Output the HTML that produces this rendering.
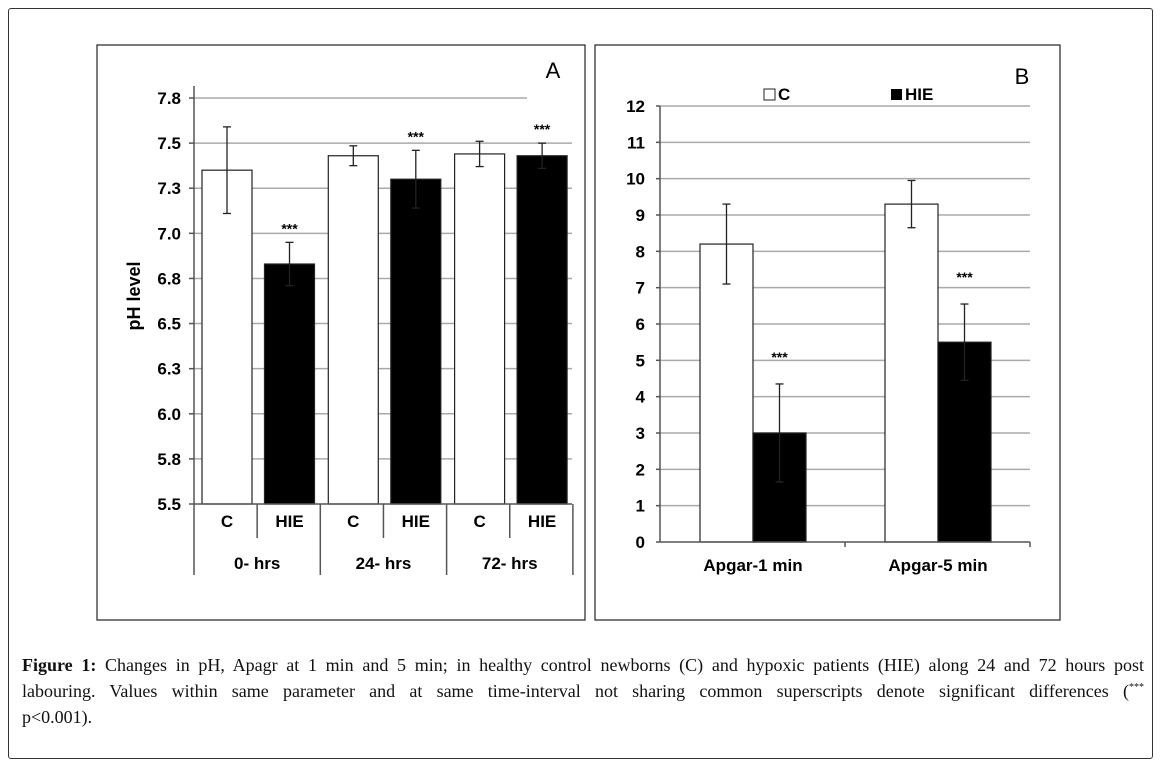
<!DOCTYPE html>
<html><head><meta charset="utf-8"><style>
body{margin:0;background:#fff;width:1163px;height:766px;overflow:hidden;position:relative}
#outer{position:absolute;left:8px;top:8px;width:1143px;height:749px;border:1px solid #333;border-radius:3px}
svg{position:absolute;left:0;top:0}
text{font-family:"Liberation Sans",sans-serif;font-weight:bold}
#cap{position:absolute;left:22px;top:652px;width:1122px;font-family:"Liberation Serif",serif;font-size:18px;line-height:26px;color:#111}
#cap div{text-align:justify;text-align-last:justify;white-space:nowrap}
#cap div.last{text-align-last:left}
</style></head><body>
<div id="outer"></div>
<svg id="svg" width="1163" height="766">
<rect x="97" y="45" width="488" height="575" fill="none" stroke="#222" stroke-width="1.2"/>
<rect x="595" y="45" width="465" height="575" fill="none" stroke="#222" stroke-width="1.2"/>
</svg>
<div id="cap">
<div style="white-space:normal"><b>Figure 1:</b> Changes in pH, Apagr at 1 min and 5 min; in healthy control newborns (C) and hypoxic patients (HIE) along 24 and 72 hours post</div>
<div style="white-space:normal">labouring. Values within same parameter and at same time-interval not sharing common superscripts denote significant differences (<sup style="font-size:10px;line-height:0">***</sup></div>
<div class="last">p&lt;0.001).</div>
</div>
<script>
// Panel A data
const aGroups=["0- hrs","24- hrs","72- hrs"];
const aSeries=["C","HIE"];
const aC=[7.35,7.43,7.44];
const aHIE=[6.83,7.30,7.43];
const aCerr=[0.24,0.055,0.07];
const aHIEerr=[0.12,0.16,0.07];
const aTicks=[7.75,7.5,7.25,7.0,6.75,6.5,6.25,6.0,5.75,5.5];
const aTickLabels=["7.8","7.5","7.3","7.0","6.8","6.5","6.3","6.0","5.8","5.5"];
// Panel B data
const bCats=["Apgar-1 min","Apgar-5 min"];
const bC=[8.2,9.3];
const bHIE=[3.0,5.5];
const bCerr=[1.1,0.65];
const bHIEerr=[1.35,1.05];
const bTicks=[0,1,2,3,4,5,6,7,8,9,10,11,12];

const svg=document.getElementById('svg');
const NS='http://www.w3.org/2000/svg';
function el(t,a,p){const e=document.createElementNS(NS,t);for(const k in a)e.setAttribute(k,a[k]);(p||svg).appendChild(e);return e;}
function txt(x,y,s,size,anchor){const e=el('text',{x:x,y:y,'font-size':size,'text-anchor':anchor||'middle'});e.textContent=s;return e;}

// ---- Panel A ----
const ay=v=>504-(v-5.5)/(7.75-5.5)*406;
const ax0=194, gw=126.3;
aTicks.forEach((v,i)=>{
  const y=ay(v);
  if(i<aTicks.length-1){
    const g=el('line',{x1:ax0,x2:i==0?527:572,y1:y,y2:y,stroke:'#aaa','stroke-width':1.5});
    
    
  }
  el('line',{x1:ax0-5,x2:ax0,y1:y,y2:y,stroke:'#555','stroke-width':1.5});
  const t=txt(ax0-13,y+6,aTickLabels[i],17,'end');
  
  
});
function errbar(x,top,bot,cap){el('line',{x1:x,x2:x,y1:top,y2:bot,stroke:'#222','stroke-width':1.3});el('line',{x1:x-cap,x2:x+cap,y1:top,y2:top,stroke:'#222','stroke-width':1.3});el('line',{x1:x-cap,x2:x+cap,y1:bot,y2:bot,stroke:'#222','stroke-width':1.3});}
aGroups.forEach((g,i)=>{
  const gx=ax0+i*gw;
  [[aC,aCerr,'#fff'],[aHIE,aHIEerr,'#000']].forEach((s,j)=>{
    const x=gx+8+j*62.5, v=s[0][i], e=s[1][i];
    const r=el('rect',{x:x,y:ay(v),width:50,height:504-ay(v),fill:s[2],stroke:'#222','stroke-width':1.2});
    
    
    errbar(x+25,ay(v+e),ay(v-e),4);
    const l=txt(x+25,527,aSeries[j],17);
    
    
    if(j==1){const st=txt(x+25,ay(v+e)-9,'***',14);
      
      }
  });
  el('line',{x1:gx+gw/2,x2:gx+gw/2,y1:504,y2:538,stroke:'#555','stroke-width':1.5});
  el('line',{x1:gx+gw,x2:gx+gw,y1:504,y2:575,stroke:'#555','stroke-width':1.5});
  const gl=txt(gx+gw/2,569,g,17);
  
  
});
el('line',{x1:ax0,x2:ax0,y1:86,y2:575,stroke:'#555','stroke-width':1.5});
el('line',{x1:ax0,x2:572,y1:504,y2:504,stroke:'#555','stroke-width':1.5});
const yt=txt(0,0,'pH level',18);yt.setAttribute('transform','translate(140,296) rotate(-90)');


const pa=txt(553,78,'A',22);pa.style.fontWeight='normal';



// ---- Panel B ----
const by=v=>542-v/12*436;
const bx0=660, bcw=185;
bTicks.forEach(v=>{
  const y=by(v);
  if(v>0){const g=el('line',{x1:bx0,x2:1030,y1:y,y2:y,stroke:'#aaa','stroke-width':1.5});
    
    }
  el('line',{x1:bx0-4,x2:bx0,y1:y,y2:y,stroke:'#555','stroke-width':1.5});
  const t=txt(bx0-15,y+6,String(v),17,'end');
  
  
});
bCats.forEach((c,i)=>{
  const cx=bx0+i*bcw;
  [[bC,bCerr,'#fff','c'],[bHIE,bHIEerr,'#000','hie']].forEach((s,j)=>{
    const x=cx+40+j*53, v=s[0][i], e=s[1][i];
    const r=el('rect',{x:x,y:by(v),width:53,height:542-by(v),fill:s[2],stroke:'#222','stroke-width':1.2});
    
    
    errbar(x+26.5,by(v+e),by(v-e),4);
    if(j==1){const st=txt(x+26.5,by(v+e)-22,'***',14);
      
      }
  });
  el('line',{x1:cx+bcw,x2:cx+bcw,y1:542,y2:547,stroke:'#555','stroke-width':1.5});
  const cl=txt(cx+93,571,c,17);
  
  
});
el('line',{x1:bx0,x2:bx0,y1:106,y2:542,stroke:'#555','stroke-width':1.5});
el('line',{x1:bx0,x2:1030,y1:542,y2:542,stroke:'#555','stroke-width':1.5});
const lg1=el('rect',{x:764,y:89,width:11,height:11,fill:'#fff',stroke:'#222'});

const lt1=txt(778,100,'C',17,'start');

const lg2=el('rect',{x:891,y:89,width:11,height:11,fill:'#000'});

const lt2=txt(905,100,'HIE',17,'start');

const pb=txt(1022,84,'B',22);pb.style.fontWeight='normal';


</script>
</body></html>
